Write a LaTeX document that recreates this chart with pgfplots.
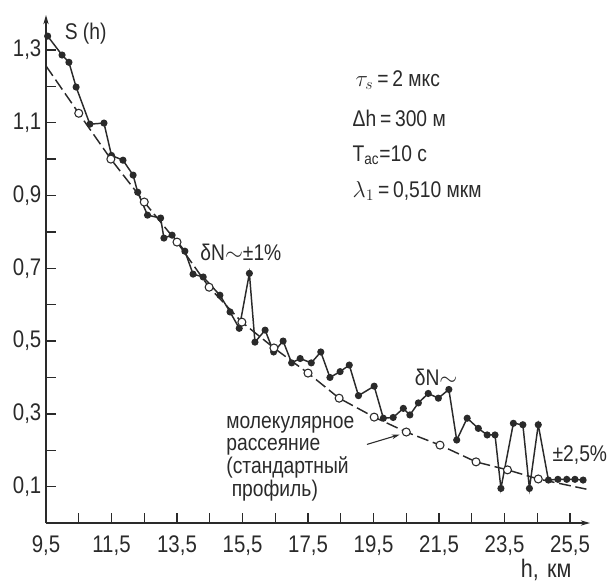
\documentclass[border=0pt]{standalone}
\usepackage{pgfplots}
\pgfplotsset{compat=1.18}
\usetikzlibrary{arrows.meta}
\usepackage{fontspec}
\setmainfont{Liberation Sans}[FakeStretch=0.85]
\definecolor{ink}{HTML}{2A2A2A}

\begin{document}
\begin{tikzpicture}[font=\fontsize{17}{20}\selectfont, text=ink]
\begin{axis}[
    at={(0,0)}, anchor=south west,
    scale only axis, width=408pt, height=381pt,
    xmin=9.5, xmax=26.11, ymin=0, ymax=1.396,
    axis lines=left,
    axis line style={ink, line width=1pt, -{Stealth[length=7pt,width=4pt]}},
    tick align=inside,
    major tick length=7.5pt, minor tick length=7.5pt,
    tick style={ink, line width=1pt},
    xtick={9.5,11.5,...,25.5},
    minor xtick={10.5,12.5,...,24.5},
    ytick={0.1,0.3,...,1.3},
    minor ytick={0.2,0.4,...,1.2},
    tick label style={font=\fontsize{18}{20}\selectfont},
    xticklabel style={yshift=-6pt},
    /pgf/number format/.cd, fixed, fixed zerofill, precision=1, use comma, assume math mode=true,
    /pgfplots/.cd,
    clip=false,
]
% molecular scattering (standard profile), dashed
\addplot[ink, line width=1.1pt, dash pattern=on 9pt off 3.5pt] coordinates {
    (9.5,1.256) (10.5,1.126) (11.48,1.0) (12.5,0.882) (13.5,0.772) (14.48,0.648)
    (15.48,0.552) (16.46,0.481) (17.5,0.412) (18.45,0.343) (19.52,0.291) (20.5,0.25)
    (21.53,0.214) (22.63,0.168) (23.59,0.146) (24.53,0.121) (26.0,0.093)};
% measured S(h)
\addplot[ink, line width=1.1pt, mark=*, mark size=2.1pt, mark options={fill=ink}] coordinates {
    (9.55,1.338) (9.99,1.286) (10.2,1.266) (10.42,1.198) (10.84,1.096) (11.27,1.099)
    (11.5,1.01) (11.85,0.997) (12.16,0.956) (12.3,0.909) (12.6,0.846) (13.0,0.838)
    (13.1,0.783) (13.35,0.791) (13.74,0.747) (13.99,0.684) (14.3,0.676) (14.81,0.626)
    (15.12,0.58) (15.4,0.535) (15.71,0.686) (15.88,0.497) (16.19,0.53) (16.45,0.47)
    (16.74,0.50) (17.0,0.44) (17.26,0.452) (17.6,0.44) (17.89,0.47) (18.17,0.40)
    (18.48,0.416) (18.76,0.434) (19.04,0.35) (19.52,0.376) (19.8,0.288) (20.1,0.29)
    (20.41,0.315) (20.61,0.297) (20.87,0.33) (21.17,0.356) (21.48,0.343) (21.8,0.367)
    (22.04,0.228) (22.36,0.288) (22.7,0.26) (22.97,0.242) (23.21,0.242) (23.39,0.095)
    (23.77,0.274) (24.06,0.27) (24.26,0.095) (24.53,0.27) (24.84,0.118) (25.13,0.12)
    (25.4,0.12) (25.65,0.12) (25.9,0.118)};
% open circles of the standard profile
\addplot[only marks, mark=*, mark size=3pt, mark options={fill=white, draw=ink, line width=0.8pt}] coordinates {
    (10.5,1.126) (11.48,1.0) (12.5,0.882) (13.5,0.772) (14.48,0.648)
    (15.48,0.552) (16.46,0.481) (17.5,0.412) (18.45,0.343) (19.52,0.291) (20.5,0.25)
    (21.53,0.214) (22.63,0.168) (23.59,0.146) (24.53,0.121)};

\node[anchor=west] at (axis cs:9.93,1.345) {S (h)};
\node[font=\fontsize{19}{22}\selectfont] at (axis cs:24.77,-0.128) {h,\,\,км};

\node[anchor=west] at (axis cs:18.81,1.217) {$\tau_s$\,=\,2 мкс};
\node[anchor=west] at (axis cs:18.72,1.113) {Δh\,=\,300 м};
\node[anchor=west] at (axis cs:18.72,1.011) {T\textsubscript{ac}=10 с};
\node[anchor=west] at (axis cs:18.72,0.912) {$\lambda_1$\,=\,0,510 мкм};

\node at (axis cs:15.45,0.745) {δN$\sim$±1\%};
\node at (axis cs:21.41,0.401) {δN$\sim$};
\node at (axis cs:25.8,0.187) {±2,5\%};

\node[anchor=north west, align=left, inner sep=0pt, font=\fontsize{17}{17}\selectfont]
    at (axis cs:15.0,0.295) {молекулярное\\рассеяние\\(стандартный\\\ профиль)};
\draw[ink, line width=0.8pt, -{Stealth[length=6pt,width=3.5pt]}]
    (axis cs:19.3,0.216) -- (axis cs:20.3,0.243);
\end{axis}
\pgfresetboundingbox
\path[use as bounding box] (-34.5pt,-47.25pt) rectangle (422.25pt,392.25pt);
\end{tikzpicture}
\end{document}
